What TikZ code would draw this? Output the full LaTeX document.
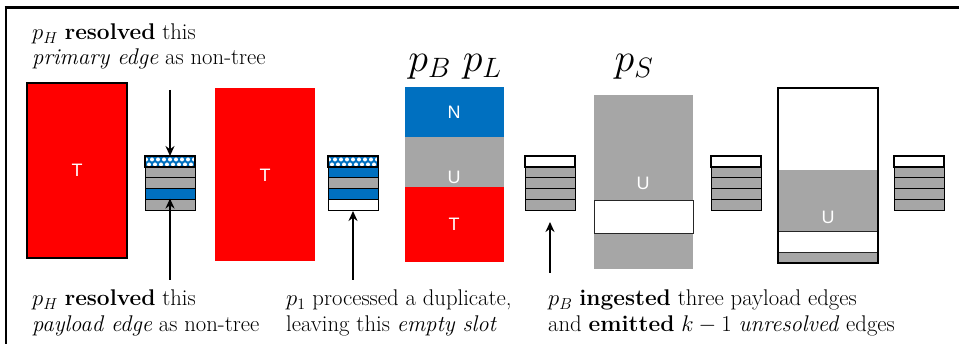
\RequirePackage{fix-cm}
\documentclass[tikz,border=0pt]{standalone}
\usepackage{fontspec}
\newfontfamily\labfont{Liberation Sans}
\usetikzlibrary{arrows.meta}
\definecolor{cred}{RGB}{255,0,0}
\definecolor{cblue}{RGB}{0,112,192}
\definecolor{cgray}{RGB}{166,166,166}
\tikzset{
  txt/.style={anchor=base west,inner sep=0pt,font=\fontsize{22.7}{26.5}\selectfont},
  ttl/.style={anchor=base,inner sep=0pt,font=\fontsize{40}{44}\selectfont},
  lab/.style={text=white,font=\labfont\fontsize{18}{20}\selectfont,inner sep=0pt},
  blk/.style={inner sep=0pt,outer sep=0pt},
  arr/.style={line width=2.2pt,-{Stealth[length=10pt,width=9pt]}},
}
\newcommand\hatchrow[1]{%
  \begin{scope}
    \clip (#1,156) rectangle ++(50,11);
    \fill[cblue] (#1,156) rectangle ++(50,11);
    \foreach \k in {0,...,8}{%
      \fill[white] (#1+1+6*\k,159.5) circle[radius=2pt];
      \fill[white] (#1+4+6*\k,164.5) circle[radius=2pt];}
  \end{scope}}
\newcommand\whiterow[1]{\fill[white] (#1,156) rectangle ++(50,11);}
\newcommand\drawstack[4]{%
  \foreach \c [count=\i] in {#4}{%
    \filldraw[fill=\c,draw=black,line width=1pt] (#2,156+11*\i) rectangle ++(50,11);}
  #3
  \draw[line width=2.5pt] (#2,156) rectangle ++(50,11);
  \node[blk,minimum width=50pt,minimum height=55pt] (#1) at (#2+25,183.5) {};
}
\begin{document}
\begin{tikzpicture}[x=1pt,y=-1pt]
\useasboundingbox (0,0) rectangle (959,344);
% frame
\draw[line width=3pt] (4.5,7.5) -- (959,7.5);
\draw[line width=1.5pt] (6,7.5) -- (6,344);

% top text
\node[txt] (t1) at (32,40) {$p_H$ \textbf{resolved} this};
\node[txt] (t2) at (32,65) {\emph{primary edge} as non-tree};

% big block 1
\node[blk,draw=black,line width=1.5pt,fill=cred,minimum width=100pt,minimum height=175pt] (r1) at (77,170.5) {};
\node[lab] (r1l) at (77,170) {T};

% stack 1
\drawstack{s1}{145}{\hatchrow{145}}{cgray,cgray,cblue,cgray}

% big block 2
\node[blk,fill=cred,minimum width=100pt,minimum height=173pt] (r2) at (265,174.5) {};
\node[lab] (r2l) at (265,175) {T};

% stack 2
\drawstack{s2}{328}{\hatchrow{328}}{cblue,cgray,cblue,white}

% column pB pL
\node[ttl] (tBL) at (455,72) {$p_B\ p_L$};
\node[blk,fill=cblue,minimum width=99pt,minimum height=50.5pt] (cN) at (454.5,112) {};
\node[blk,fill=cgray,minimum width=99pt,minimum height=50pt] (cU) at (454.5,162) {};
\node[blk,fill=cred,minimum width=99pt,minimum height=75pt] (cT) at (454.5,224.5) {};
\node[lab] (cNl) at (454,112) {N};
\node[lab] (cUl) at (454,177) {U};
\node[lab] (cTl) at (454,224) {T};

% stack 3
\drawstack{s3}{525}{\whiterow{525}}{cgray,cgray,cgray,cgray}

% column pS
\node[ttl] (tS) at (634,72) {$p_S$};
\node[blk,fill=cgray,minimum width=99pt,minimum height=174pt] (sG) at (643.5,182) {};
\node[blk,fill=white,draw=black!85,line width=1pt,minimum width=99pt,minimum height=33pt] (sW) at (643.5,217.5) {};
\node[lab] (sGl) at (643,183) {U};

% stack 4
\drawstack{s4}{711}{\whiterow{711}}{cgray,cgray,cgray,cgray}

% column 5
\node[blk,fill=cgray,minimum width=100pt,minimum height=93pt] (fG) at (828,216.5) {};
\node[blk,fill=white,draw=black!85,line width=1pt,minimum width=100pt,minimum height=21pt] (fW) at (828,242.5) {};
\node[blk,draw=black,line width=2.5pt,minimum width=100pt,minimum height=175pt] (f) at (828,175.5) {};
\node[lab] (fGl) at (828,217) {U};

% stack 5
\drawstack{s5}{894}{\whiterow{894}}{cgray,cgray,cgray,cgray}

% arrows
\coordinate (a1) at (170,90);
\draw[arr] (a1) -- (s1.north);
\coordinate (b1) at (170,280);
\coordinate (b1t) at (170,198.5);
\draw[arr] (b1) -- (b1t);
\coordinate (b2) at (353,280);
\draw[arr] (b2) -- (s2.south);
\coordinate (b3) at (550,273);
\coordinate (b3t) at (550,222);
\draw[arr] (b3) -- (b3t);

% bottom texts
\node[txt] (u1) at (32,306) {$p_H$ \textbf{resolved} this};
\node[txt] (u2) at (32,332) {\emph{payload edge} as non-tree};
\node[txt] (v1) at (286,306) {$p_1$ processed a duplicate,};
\node[txt] (v2) at (286,332) {leaving this \emph{empty slot}};
\node[txt] (w1) at (548,306) {$p_B$ \textbf{ingested} three payload edges};
\node[txt] (w2) at (548,332) {and \textbf{emitted} $k-1$ \emph{unresolved} edges};
\end{tikzpicture}
\end{document}
